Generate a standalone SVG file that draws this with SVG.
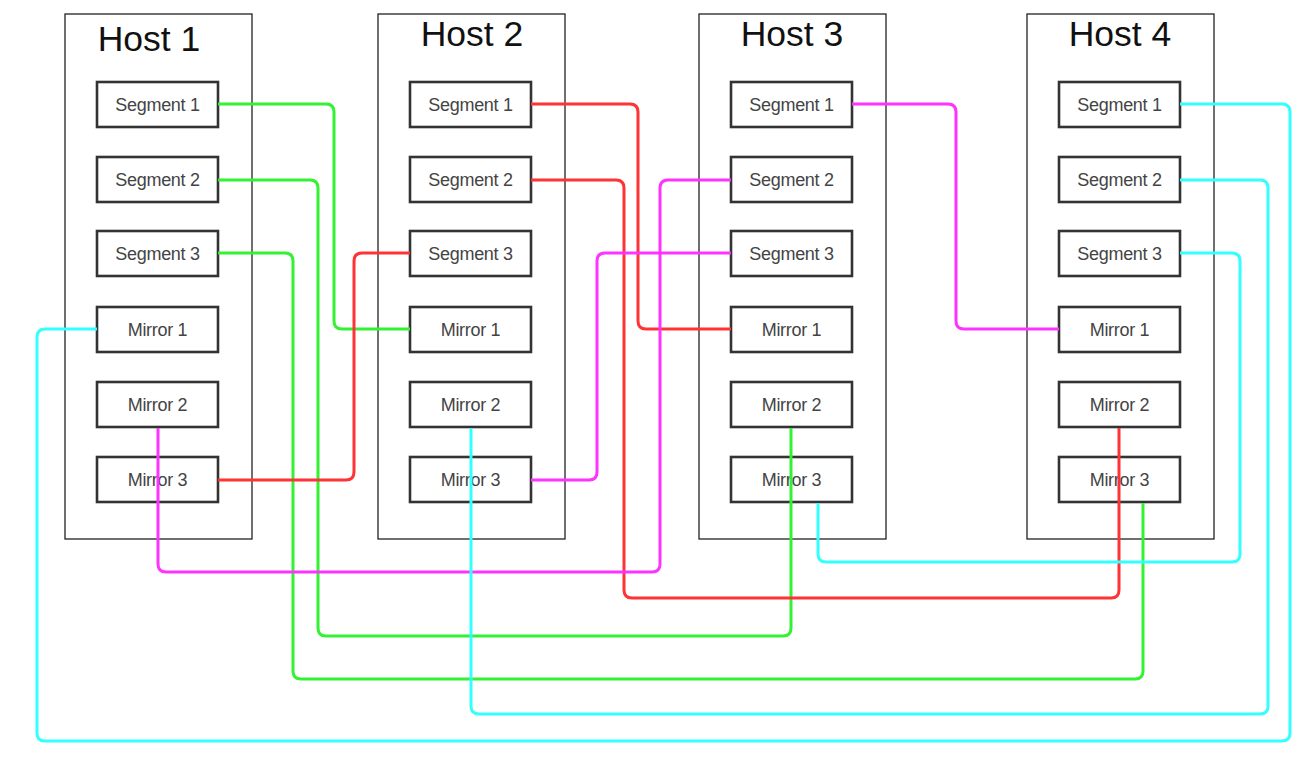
<svg xmlns="http://www.w3.org/2000/svg" width="1303" height="759" viewBox="0 0 1303 759">
<style>
.host{fill:#fff;stroke:#222;stroke-width:1.3}
.title{font-family:"Liberation Sans",Arial,sans-serif;font-size:35.5px;fill:#111;text-anchor:middle}
.node rect{fill:none;stroke:#333;stroke-width:2.6}
.node text{font-family:"Liberation Sans",Arial,sans-serif;font-size:18px;fill:#444;text-anchor:middle;letter-spacing:-0.3px}
.c{fill:none;stroke-width:3;stroke-linejoin:round}
.g{stroke:#33f233}.r{stroke:#ff3333}.m{stroke:#ff33ff}.cy{stroke:#33ffff}
</style>
<g id="host1"><rect class="host" x="65" y="14" width="187" height="525"/><text class="title" x="149" y="51">Host 1</text></g>
<g id="host2"><rect class="host" x="378" y="14" width="187" height="525"/><text class="title" x="472" y="46">Host 2</text></g>
<g id="host3"><rect class="host" x="699" y="14" width="187" height="525"/><text class="title" x="792" y="46">Host 3</text></g>
<g id="host4"><rect class="host" x="1027" y="14" width="187" height="525"/><text class="title" x="1120" y="46">Host 4</text></g>

<g id="h1s1" class="node"><rect x="97" y="82" width="121" height="45"/><text x="157.5" y="111">Segment 1</text></g>
<g id="h1s2" class="node"><rect x="97" y="157" width="121" height="45"/><text x="157.5" y="186">Segment 2</text></g>
<g id="h1s3" class="node"><rect x="97" y="231" width="121" height="45"/><text x="157.5" y="260">Segment 3</text></g>
<g id="h1m1" class="node"><rect x="97" y="307" width="121" height="45"/><text x="157.5" y="336">Mirror 1</text></g>
<g id="h1m2" class="node"><rect x="97" y="382" width="121" height="45"/><text x="157.5" y="411">Mirror 2</text></g>
<g id="h1m3" class="node"><rect x="97" y="457" width="121" height="45"/><text x="157.5" y="486">Mirror 3</text></g>

<g id="h2s1" class="node"><rect x="410" y="82" width="121" height="45"/><text x="470.5" y="111">Segment 1</text></g>
<g id="h2s2" class="node"><rect x="410" y="157" width="121" height="45"/><text x="470.5" y="186">Segment 2</text></g>
<g id="h2s3" class="node"><rect x="410" y="231" width="121" height="45"/><text x="470.5" y="260">Segment 3</text></g>
<g id="h2m1" class="node"><rect x="410" y="307" width="121" height="45"/><text x="470.5" y="336">Mirror 1</text></g>
<g id="h2m2" class="node"><rect x="410" y="382" width="121" height="45"/><text x="470.5" y="411">Mirror 2</text></g>
<g id="h2m3" class="node"><rect x="410" y="457" width="121" height="45"/><text x="470.5" y="486">Mirror 3</text></g>

<g id="h3s1" class="node"><rect x="731" y="82" width="121" height="45"/><text x="791.5" y="111">Segment 1</text></g>
<g id="h3s2" class="node"><rect x="731" y="157" width="121" height="45"/><text x="791.5" y="186">Segment 2</text></g>
<g id="h3s3" class="node"><rect x="731" y="231" width="121" height="45"/><text x="791.5" y="260">Segment 3</text></g>
<g id="h3m1" class="node"><rect x="731" y="307" width="121" height="45"/><text x="791.5" y="336">Mirror 1</text></g>
<g id="h3m2" class="node"><rect x="731" y="382" width="121" height="45"/><text x="791.5" y="411">Mirror 2</text></g>
<g id="h3m3" class="node"><rect x="731" y="457" width="121" height="45"/><text x="791.5" y="486">Mirror 3</text></g>

<g id="h4s1" class="node"><rect x="1059" y="82" width="121" height="45"/><text x="1119.5" y="111">Segment 1</text></g>
<g id="h4s2" class="node"><rect x="1059" y="157" width="121" height="45"/><text x="1119.5" y="186">Segment 2</text></g>
<g id="h4s3" class="node"><rect x="1059" y="231" width="121" height="45"/><text x="1119.5" y="260">Segment 3</text></g>
<g id="h4m1" class="node"><rect x="1059" y="307" width="121" height="45"/><text x="1119.5" y="336">Mirror 1</text></g>
<g id="h4m2" class="node"><rect x="1059" y="382" width="121" height="45"/><text x="1119.5" y="411">Mirror 2</text></g>
<g id="h4m3" class="node"><rect x="1059" y="457" width="121" height="45"/><text x="1119.5" y="486">Mirror 3</text></g>

<g id="connectors">
<path class="c g" d="M218,104 H326 Q334,104 334,112 V321 Q334,329 342,329 H410"/>
<path class="c g" d="M218,180 H310 Q318,180 318,188 V628 Q318,636 326,636 H783 Q791,636 791,628 V428"/>
<path class="c g" d="M218,253 H285 Q293,253 293,261 V671 Q293,679 301,679 H1135 Q1143,679 1143,671 V503"/>
<path class="c r" d="M531,104 H630 Q638,104 638,112 V321 Q638,329 646,329 H731"/>
<path class="c r" d="M531,180 H616 Q624,180 624,188 V590 Q624,598 632,598 H1111 Q1119,598 1119,590 V428"/>
<path class="c r" d="M218,480 H346 Q354,480 354,472 V261 Q354,253 362,253 H410"/>
<path class="c m" d="M852,104 H948 Q956,104 956,112 V321 Q956,329 964,329 H1059"/>
<path class="c m" d="M731,180 H668 Q660,180 660,188 V564 Q660,572 652,572 H166 Q158,572 158,564 V428"/>
<path class="c m" d="M531,480 H589 Q597,480 597,472 V261 Q597,253 605,253 H731"/>
<path class="c cy" d="M1180,104 H1282 Q1290,104 1290,112 V733 Q1290,741 1282,741 H45 Q37,741 37,733 V337 Q37,329 45,329 H97"/>
<path class="c cy" d="M1180,180 H1260 Q1268,180 1268,188 V706 Q1268,714 1260,714 H479 Q471,714 471,706 V428"/>
<path class="c cy" d="M1180,253 H1232 Q1240,253 1240,261 V554 Q1240,562 1232,562 H826 Q818,562 818,554 V503"/>
</g>
</svg>
